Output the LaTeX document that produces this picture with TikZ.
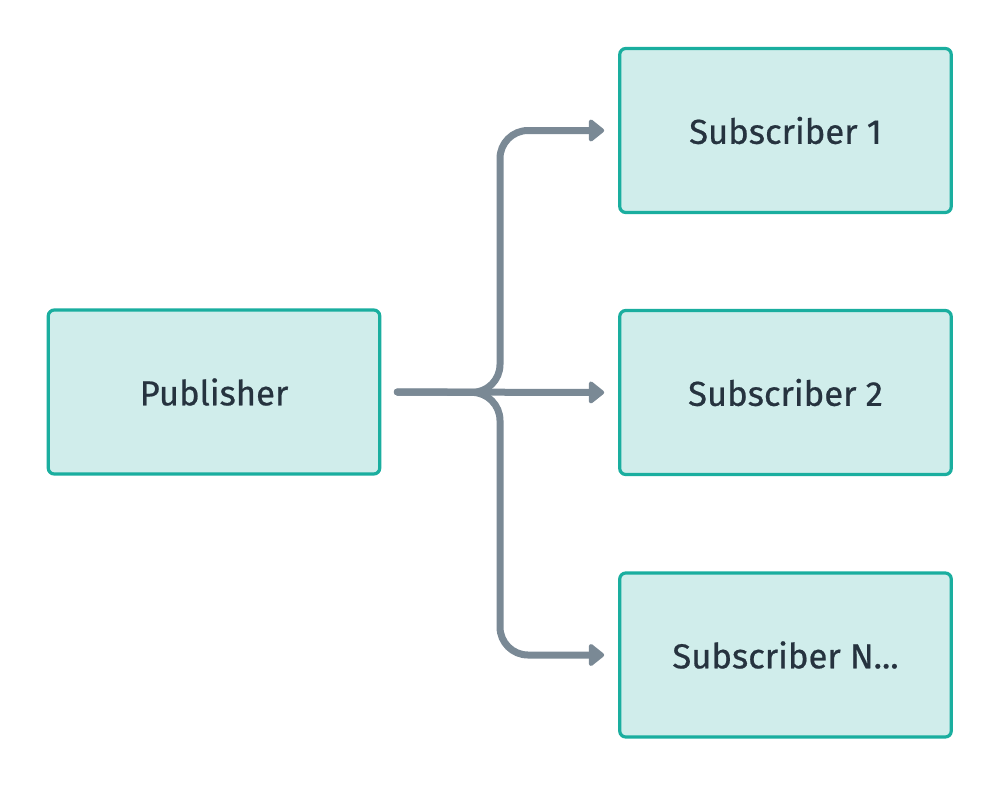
\documentclass[tikz,border=0pt]{standalone}
\usepackage{fontspec}
\setmainfont{Fira Sans}
\newfontfamily\boxfont{Fira Sans}[FakeBold=0.6]
\usetikzlibrary{arrows.meta}
\definecolor{boxfill}{HTML}{D0EDEB}
\definecolor{boxline}{HTML}{1AAE9F}
\definecolor{linkcol}{HTML}{7A8995}
\definecolor{txtcol}{HTML}{26333F}
\tikzset{
  px/.style={x=0.75pt,y=-0.75pt},
  box/.style={draw=boxline, fill=boxfill, line width=2.4pt, rounded corners=4.5pt,
    minimum width=331.5*0.75pt, minimum height=164*0.75pt, inner sep=0pt,
    font=\boxfont\fontsize{26}{30}\selectfont, text=txtcol},
  link/.style={draw=linkcol, line width=5.25pt, line cap=round, rounded corners=21pt,
    -{Triangle[length=12.5pt,width=19pt,round]}, shorten >=10.5pt}
}
\begin{document}
\begin{tikzpicture}[px]
\useasboundingbox (0,0) rectangle (1000,786);
\node[box] (pub) at (214,392) {Publisher};
\node[box] (s1) at (785.5,130.5) {Subscriber 1};
\node[box] (s2) at (785.5,392.5) {Subscriber 2};
\node[box] (sn) at (785.5,655) {Subscriber N...};
\coordinate (j) at (500,392.5);
\draw[link] ([xshift=12pt]pub.east) -- (j) |- (s1.west);
\draw[link] ([xshift=12pt]pub.east) -- (s2.west);
\draw[link] ([xshift=12pt]pub.east) -- (j) |- (sn.west);
\end{tikzpicture}
\end{document}
